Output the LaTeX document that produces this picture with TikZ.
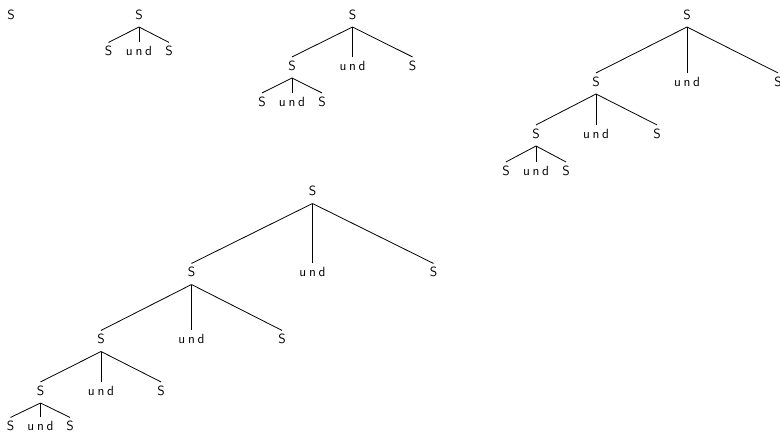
\documentclass[tikz,border=0pt]{standalone}
\usepackage{fontspec}
\usepackage{tikz}
\newcommand{\und}{u\kern2pt n\kern2pt d}
\tikzset{
    cat/.style={
        anchor=base,
        inner xsep=1pt,
        inner ysep=2.6pt,
        text height=7pt,
        text depth=3.2pt,
        font=\sffamily
    },
    branch/.style={
        line width=0.6pt
    }
}

\begin{document}
\begin{tikzpicture}[x=0.75pt, y=-0.75pt]
        \useasboundingbox (0,0) rectangle (780,432);

        % just S
        \node[cat] (a) at (11,19) {S};

        % one step
        \node[cat] (b) at (139,19) {S};
        \node[cat] (bL) at (108.5,55.5) {S};
        \node[cat] (bU) at (139,55.5) {\und};
        \node[cat] (bR) at (169,55.5) {S};

        % two steps
        \node[cat] (c) at (352.5,19) {S};
        \node[cat] (cL) at (292,70) {S};
        \node[cat] (cU) at (352.5,70) {\und};
        \node[cat] (cR) at (412.5,70) {S};
        \node[cat] (cLL) at (262,106) {S};
        \node[cat] (cLU) at (292,106) {\und};
        \node[cat] (cLR) at (322,106) {S};

        % three steps
        \node[cat] (d) at (687,19) {S};
        \node[cat] (dL) at (596,86) {S};
        \node[cat] (dU) at (687,86) {\und};
        \node[cat] (dR) at (778,86) {S};
        \node[cat] (dLL) at (536,138) {S};
        \node[cat] (dLU) at (596,138) {\und};
        \node[cat] (dLR) at (657,138) {S};
        \node[cat] (dLLL) at (506,175) {S};
        \node[cat] (dLLU) at (536,175) {\und};
        \node[cat] (dLLR) at (566,175) {S};

        % four steps
        \node[cat] (e) at (312.5,195.5) {S};
        \node[cat] (eL) at (191.5,276.5) {S};
        \node[cat] (eU) at (312.5,276.5) {\und};
        \node[cat] (eR) at (433.5,276.5) {S};
        \node[cat] (eLL) at (101,343.5) {S};
        \node[cat] (eLU) at (191.5,343.5) {\und};
        \node[cat] (eLR) at (282,343.5) {S};
        \node[cat] (eLLL) at (40.5,395) {S};
        \node[cat] (eLLU) at (101,395) {\und};
        \node[cat] (eLLR) at (161,395) {S};
        \node[cat] (eLLLL) at (10.5,430.5) {S};
        \node[cat] (eLLLU) at (40.5,430.5) {\und};
        \node[cat] (eLLLR) at (70,430.5) {S};

        \foreach \p in {b,c,cL,d,dL,dLL,e,eL,eLL,eLLL}
            \foreach \k in {L,U,R}
                \draw[branch] (\p.south) -- (\p\k.north);
    \end{tikzpicture}
\end{document}
